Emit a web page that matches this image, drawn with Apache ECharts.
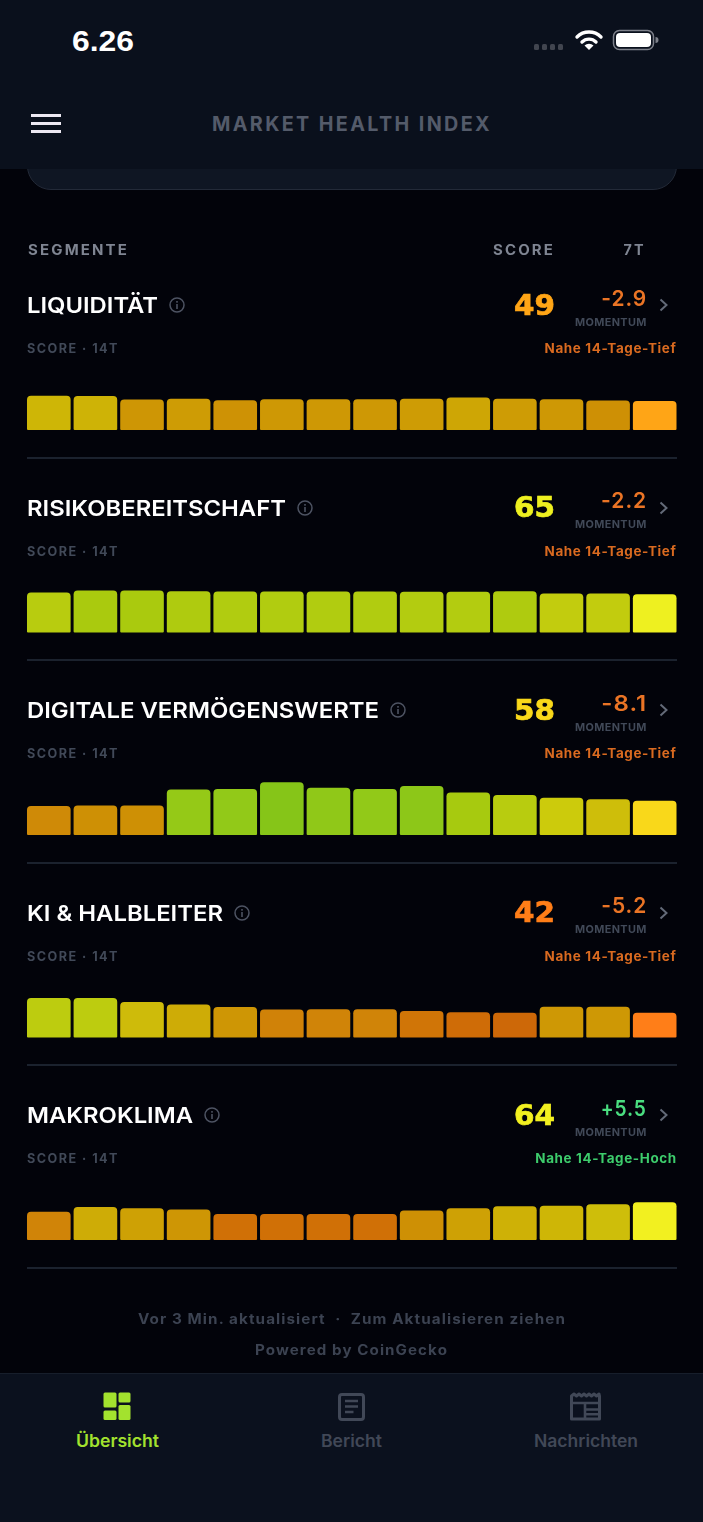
<!DOCTYPE html>
<html>
<head>
<meta charset="utf-8">
<title>Market Health Index</title>
<script src="https://cdn.jsdelivr.net/npm/echarts@6/dist/echarts.min.js"></script>
<style>
html, body { margin: 0; padding: 0; background: #02030a; }
#page { position: relative; width: 703px; height: 1522px; overflow: hidden; background: #02030a; font-family: Inter, sans-serif; }
#main { position: absolute; left: 0; top: 0; width: 703px; height: 1522px; }
.box { position: absolute; }
.txt { position: absolute; white-space: pre; }
svg { position: absolute; overflow: visible; }
</style>
</head>
<body>
<div id="page">
  <div id="main"></div>
</div>
<script>
// score history, 14 days, oldest first
var liquiditaet = [58, 57.5, 51.5, 53, 50.5, 52, 52, 52, 53, 55, 53, 52, 50, 49];
var risiko = [68, 71, 71, 70, 69.5, 69.5, 69.5, 69.5, 69, 69, 70, 66, 66, 65];
var digital = [49, 50, 50, 77, 78, 89.5, 80, 78, 83, 72, 68, 63, 60.5, 58];
var halbleiter = [67, 67, 60, 56, 51.5, 47.5, 48, 48, 45, 43, 42, 52, 52, 42];
var makro = [48, 56, 54, 51.5, 44, 44, 44, 44, 50, 54, 57, 58, 60.5, 64];

var days = ['1', '2', '3', '4', '5', '6', '7', '8', '9', '10', '11', '12', '13', '14'];
var segmentNames = ['LIQUIDITÄT', 'RISIKOBEREITSCHAFT', 'DIGITALE VERMÖGENSWERTE', 'KI & HALBLEITER', 'MAKROKLIMA'];
var segmentSeries = [liquiditaet, risiko, digital, halbleiter, makro];
var scores = ['49', '65', '58', '42', '64'];
var momentum = ['-2.9', '-2.2', '-8.1', '-5.2', '+5.5'];
var notes = ['Nahe 14-Tage-Tief', 'Nahe 14-Tage-Tief', 'Nahe 14-Tage-Tief', 'Nahe 14-Tage-Tief', 'Nahe 14-Tage-Hoch'];

// colours
var todayColors = ['#ffa516', '#eef020', '#f9d81a', '#ff7e18', '#f2f020'];
var rampScores = [42, 44, 48, 50, 53, 58, 60, 63, 66, 69, 71, 78, 90];
var rampColors = ['#cd6808', '#d07006', '#d08408', '#ce9005', '#ce9c05', '#ceb606', '#cebb0a', '#cccb0c', '#c2cc0e', '#b3cc10', '#aaca0e', '#92c918', '#85c518'];

function hex(c) {
    return [parseInt(c.substr(1, 2), 16), parseInt(c.substr(3, 2), 16), parseInt(c.substr(5, 2), 16)];
}
function rampColor(v) {
    var i = 0;
    if (v <= rampScores[0]) return rampColors[0];
    while (i < rampScores.length - 2 && v > rampScores[i + 1]) i++;
    var t = Math.min(1, (v - rampScores[i]) / (rampScores[i + 1] - rampScores[i]));
    var a = hex(rampColors[i]), b = hex(rampColors[i + 1]);
    return 'rgb(' + Math.round(a[0] + (b[0] - a[0]) * t) + ',' + Math.round(a[1] + (b[1] - a[1]) * t) + ',' + Math.round(a[2] + (b[2] - a[2]) * t) + ')';
}

var page = document.getElementById('page');

function box(x, y, w, h, css) {
    var d = document.createElement('div');
    d.className = 'box';
    d.style.cssText = 'left:' + x + 'px;top:' + y + 'px;width:' + w + 'px;height:' + h + 'px;' + (css || '');
    page.appendChild(d);
    return d;
}

// o: left or right edge, cy centre line, width = target width from the picture
function label(text, o) {
    var d = document.createElement('div');
    d.className = 'txt';
    d.textContent = text;
    d.style.fontSize = o.size + 'px';
    d.style.lineHeight = o.size + 'px';
    d.style.top = (o.cy - o.size / 2) + 'px';
    d.style.fontWeight = o.weight || 500;
    d.style.color = o.color;
    d.style.letterSpacing = (o.spacing || 0) + 'px';
    if (o.font) d.style.fontFamily = o.font;
    if (o.stroke) d.style.webkitTextStroke = o.stroke + 'px ' + o.color;
    if (o.right !== undefined) {
        d.style.right = (703 - o.right) + 'px';
        d.style.transformOrigin = 'right center';
    } else {
        d.style.left = o.left + 'px';
        d.style.transformOrigin = 'left center';
    }
    page.appendChild(d);
    if (o.width) {
        d.style.transform = 'scaleX(' + (o.width / d.getBoundingClientRect().width) + ')';
    }
    return d;
}

function svg(x, y, w, h, inner) {
    var d = document.createElement('div');
    d.innerHTML = '<svg xmlns="http://www.w3.org/2000/svg" width="' + w + '" height="' + h + '" viewBox="0 0 ' + w + ' ' + h + '" style="left:' + x + 'px;top:' + y + 'px">' + inner + '</svg>';
    page.appendChild(d.firstChild);
}

// top bar
box(27, 150, 649.5, 40, 'box-sizing:border-box;background:#0f1623;border:1.5px solid #232a38;border-radius:0 0 24px 24px;');
box(0, 0, 703, 169, 'background:#0a101c;');
label('6.26', { left: 72, cy: 40.5, size: 30, weight: 700, color: '#ffffff', font: '"Liberation Sans", sans-serif', width: 62 });
[533.5, 541.5, 549.5, 557.5].forEach(function (x) {
    box(x, 44, 5.5, 6, 'background:#41454f;border-radius:1.5px;');
});
svg(575, 29, 28, 22,
    '<path d="M2 8 A17 17 0 0 1 26 8" fill="none" stroke="#fff" stroke-width="3.4" stroke-linecap="round"/>' +
    '<path d="M7 13 A10 10 0 0 1 21 13" fill="none" stroke="#fff" stroke-width="3.4" stroke-linecap="round"/>' +
    '<path d="M14 21 L9.5 16.6 A6.5 6.5 0 0 1 18.5 16.6 Z" fill="#fff"/>');
svg(612, 29, 46, 22,
    '<rect x="1.5" y="1.5" width="40" height="19" rx="6" fill="none" stroke="#7d808a" stroke-width="1.5"/>' +
    '<rect x="4" y="4" width="35" height="14" rx="4" fill="#fff"/>' +
    '<path d="M43.5 8 A3 3 0 0 1 43.5 14 Z" fill="#7d808a"/>');
[114, 122, 130].forEach(function (y) {
    box(31, y, 30, 3, 'background:#ede9f2;');
});
label('MARKET HEALTH INDEX', { left: 212, cy: 124, size: 20, weight: 700, color: '#545b6a', spacing: 2.4, width: 280 });

// table head
label('SEGMENTE', { left: 28, cy: 250, size: 14, weight: 700, color: '#7f8592', spacing: 2, width: 101 });
label('SCORE', { right: 555, cy: 250, size: 14, weight: 700, color: '#7f8592', spacing: 2, width: 62 });
label('7T', { right: 645.5, cy: 250, size: 14, weight: 700, color: '#7f8592', spacing: 2, width: 22 });

// rows
var rowStep = 202.5;
var nameWidths = [131, 259, 352, 196, 166];
var grids = [], xAxes = [], yAxes = [], seriesList = [];

segmentNames.forEach(function (name, i) {
    var off = i * rowStep;
    var up = momentum[i].charAt(0) === '+';
    label(name, { left: 27, cy: 305 + off, size: 22, weight: 600, color: '#ffffff', width: nameWidths[i] });
    var ix = 27 + nameWidths[i] + 18.5;
    svg(ix - 8, 297 + off, 16, 16,
        '<circle cx="8" cy="8" r="7" fill="none" stroke="#4d5362" stroke-width="1.5"/>' +
        '<rect x="7.2" y="7" width="1.6" height="5" fill="#4d5362"/><rect x="7.2" y="4" width="1.6" height="1.7" fill="#4d5362"/>');
    label(scores[i], { right: 554.5, cy: 305.5 + off, size: 28, weight: 700, color: todayColors[i], font: '"DejaVu Sans", sans-serif', stroke: 0.7, width: 41 });
    label(momentum[i], { right: 647, cy: 297.5 + off, size: 22, weight: 600, color: up ? '#4ade80' : '#ea7425', spacing: 1, width: 46 });
    label('MOMENTUM', { right: 647, cy: 322 + off, size: 11, weight: 700, color: '#414958', spacing: 0.4, width: 72 });
    svg(659, 298 + off, 10, 14, '<path d="M1.5 1.5 L7.5 7 L1.5 12.5" fill="none" stroke="#636a78" stroke-width="2"/>');
    label('SCORE · 14T', { left: 27, cy: 348.5 + off, size: 13, weight: 700, color: '#414958', spacing: 1.5, width: 92 });
    label(notes[i], { right: 676.5, cy: 348.5 + off, size: 13, weight: 700, color: up ? '#3dcc6c' : '#d96a20', spacing: 0.6, width: up ? 141.5 : 132 });
    box(27, Math.round(456.5 + off), 649.5, 2, 'background:#1b222e;');

    var base = 430 + off;
    grids.push({ left: 25.5, width: 652.5, top: base - 59, height: 59 });
    xAxes.push({ type: 'category', gridIndex: i, data: days, show: false });
    yAxes.push({ type: 'value', gridIndex: i, min: 0, max: 100, show: false });
    seriesList.push({
        name: name,
        type: 'bar',
        xAxisIndex: i,
        yAxisIndex: i,
        barCategoryGap: '6.4%',
        silent: true,
        animation: false,
        data: segmentSeries[i],
        itemStyle: {
            borderRadius: [4, 4, 1, 1],
            color: function (p) {
                return p.dataIndex === days.length - 1 ? todayColors[i] : rampColor(p.value);
            }
        }
    });
});

var myChart = echarts.init(document.getElementById('main'), null, { renderer: 'canvas' });
myChart.setOption({
    backgroundColor: 'transparent',
    animation: false,
    tooltip: { show: false },
    grid: grids,
    xAxis: xAxes,
    yAxis: yAxes,
    series: seriesList
});

// footer
label('Vor 3 Min. aktualisiert  ·  Zum Aktualisieren ziehen', { left: 138, cy: 1319, size: 14, weight: 700, color: '#3c4352', spacing: 1, width: 428 });
label('Powered by CoinGecko', { left: 255, cy: 1350, size: 14, weight: 700, color: '#3c4352', spacing: 1, width: 193 });

box(0, 1373, 703, 149, 'background:#0b111e;box-sizing:border-box;border-top:1.5px solid #171e2b;');
var green = '#a3e22e', idle = '#414857';
svg(103, 1392, 28, 28,
    '<rect x="0.5" y="0.5" width="13" height="15" rx="1.5" fill="' + green + '"/>' +
    '<rect x="15.5" y="0.5" width="12" height="10" rx="1.5" fill="' + green + '"/>' +
    '<rect x="0.5" y="18.5" width="13" height="9.5" rx="1.5" fill="' + green + '"/>' +
    '<rect x="15.5" y="13" width="12" height="15" rx="1.5" fill="' + green + '"/>');
svg(338, 1392, 28, 28,
    '<rect x="1.5" y="2.5" width="24" height="25" rx="2.5" fill="none" stroke="' + idle + '" stroke-width="3"/>' +
    '<path d="M7 9 H20 M7 14.5 H20 M7 20 H15.5" stroke="' + idle + '" stroke-width="2.4"/>');
svg(570, 1392, 32, 28,
    '<path d="M1.5 4 L4 2 L6.5 4 L9 2 L11.5 4 L14 2 L16.5 4 L19 2 L21.5 4 L24 2 L26.5 4 L29 2 L29.5 4 V27 H1.5 Z" fill="none" stroke="' + idle + '" stroke-width="3" stroke-linejoin="round"/>' +
    '<path d="M2 11 H29 M15 11.5 V26.5 M15 17.5 H29 M15 22.3 H29" stroke="' + idle + '" stroke-width="2.6"/>');
label('Übersicht', { left: 76, cy: 1441.5, size: 17, weight: 600, color: green, width: 83 });
label('Bericht', { left: 321, cy: 1441.5, size: 17, weight: 600, color: idle, width: 61 });
label('Nachrichten', { left: 534, cy: 1441.5, size: 17, weight: 600, color: idle, width: 104 });
</script>
</body>
</html>
